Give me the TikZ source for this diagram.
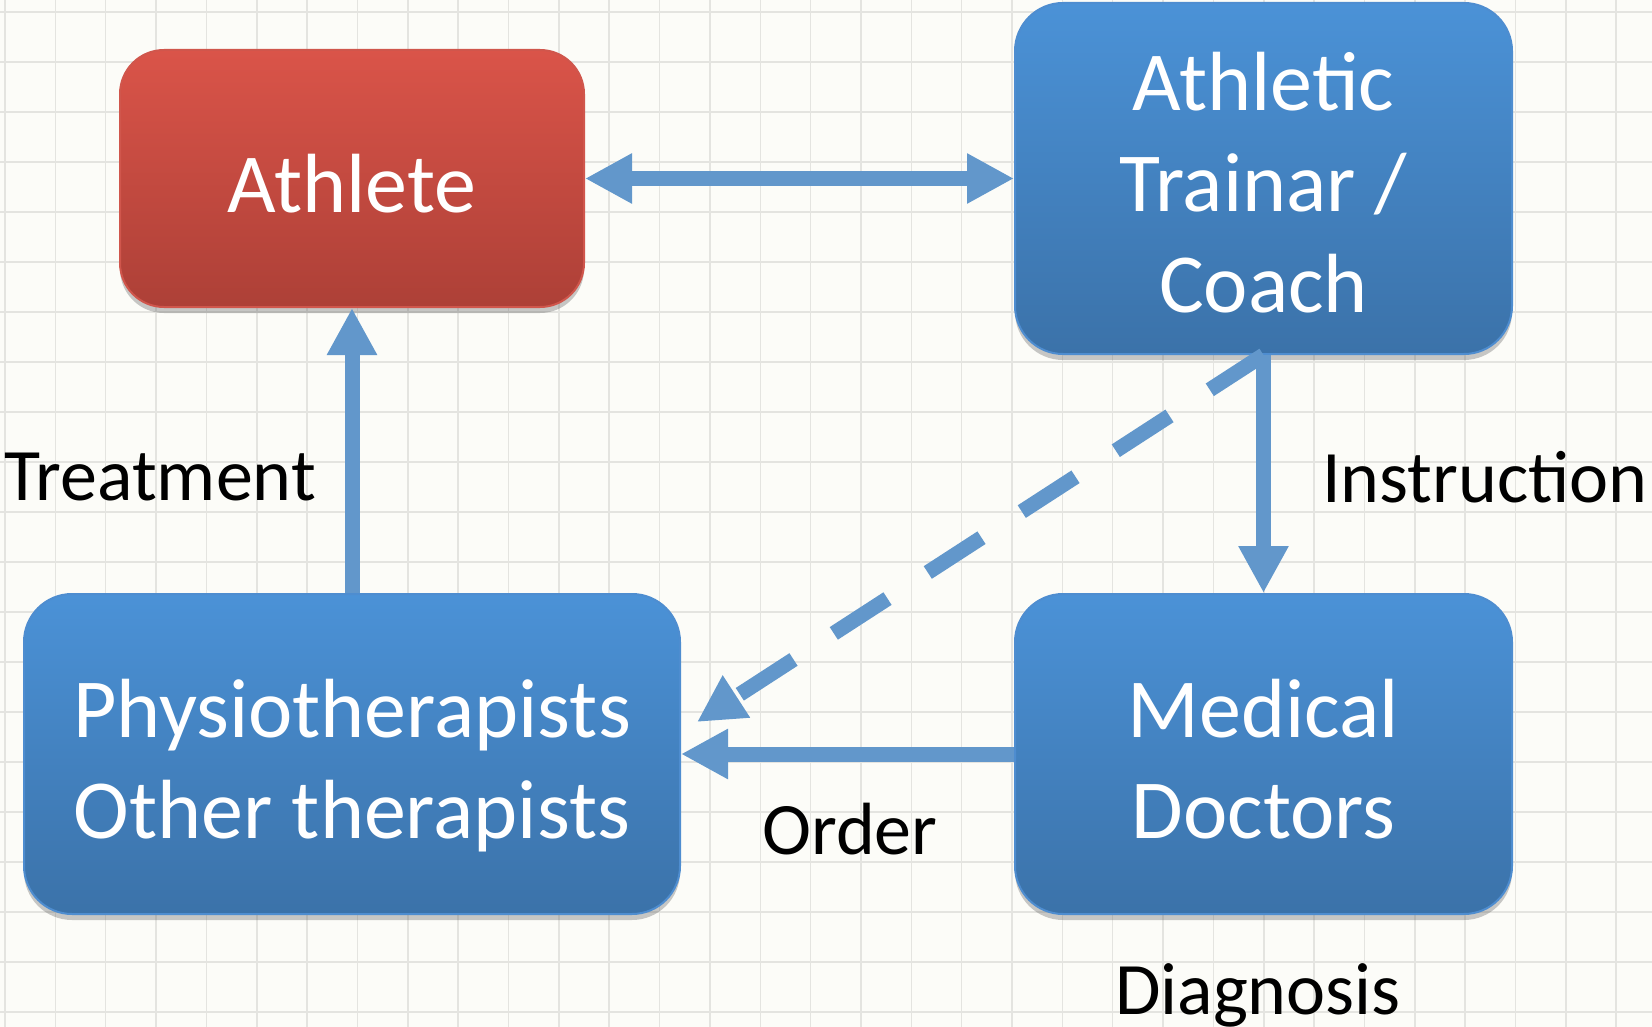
\documentclass[tikz,border=0pt]{standalone}
\usepackage{fontspec}
\setmainfont{Carlito}
\usetikzlibrary{arrows.meta,shadows,calc}
\definecolor{bgc}{HTML}{FCFCF8}
\definecolor{gridc}{HTML}{E4E4E0}
\definecolor{bluetop}{HTML}{4B92D7}
\definecolor{bluebot}{HTML}{3B72A9}
\definecolor{blueedge}{HTML}{4E8DD0}
\definecolor{redtop}{HTML}{DA5449}
\definecolor{redbot}{HTML}{AD4037}
\definecolor{rededge}{HTML}{D0564C}
\definecolor{arrowc}{HTML}{6297CB}
\begin{document}
\begin{tikzpicture}[x=1pt,y=-1pt,
  bigtip/.tip={Triangle[length=47pt,width=47pt]},
  box/.style={rounded corners=48pt, line width=2pt, draw=blueedge,
    top color=bluetop, bottom color=bluebot, text=white,
    font=\fontsize{84}{101}\selectfont, inner sep=0pt,
    drop shadow={shadow xshift=0pt,shadow yshift=-6pt,opacity=0.3,fill=black!70}},
  redbox/.style={box, draw=rededge, top color=redtop, bottom color=redbot},
  lbl/.style={font=\fontsize{74}{88}\selectfont, text=black, inner sep=0pt, anchor=base west},
  conn/.style={draw=arrowc, line width=15pt, -bigtip},
  dblconn/.style={draw=arrowc, line width=15pt, bigtip-bigtip},
]
\useasboundingbox (0,0) rectangle (1652,1027);
\fill[bgc] (0,0) rectangle (1652,1027);
\foreach \i in {0,...,32} \draw[gridc, line width=1.5pt] ({5+50.35*\i},0) -- ({5+50.35*\i},1027);
\foreach \j in {0,...,20} \draw[gridc, line width=1.5pt] (0,{12+50*\j}) -- (1652,{12+50*\j});

\node[redbox, rounded corners=44pt, minimum width=464pt, minimum height=257pt,
  text height=69pt, text depth=0pt] (athlete) at (352,178.5) {Athlete};
\node[box, minimum width=497pt, minimum height=351pt, text height=0pt, text depth=135pt]
  (trainer) at (1263.5,178.5)
  {\begin{tabular}[t]{@{}c@{}}Athletic\\Trainar /\\Coach\end{tabular}};
\node[box, minimum width=656pt, minimum height=320pt, text height=0pt, text depth=34pt]
  (physio) at (352,754)
  {\begin{tabular}[t]{@{}c@{}}Physiotherapists\\Other therapists\end{tabular}};
\node[box, minimum width=497pt, minimum height=320pt, text height=0pt, text depth=34pt]
  (medical) at (1263.5,754)
  {\begin{tabular}[t]{@{}c@{}}Medical\\Doctors\end{tabular}};

\node[lbl] (treat) at (4,500) {Treatment};
\node[lbl] (instr) at (1322,502) {Instruction};
\node[lbl] (order) at (762,854) {Order};
\node[lbl] (diag) at (1115,1014) {Diagnosis};

\draw[dblconn] (athlete) -- (trainer);
\draw[conn] (physio) -- (athlete);
\draw[conn] (trainer) -- (medical);
\draw[conn] (medical) -- (physio);
\coordinate (dtip) at ($(physio.east)+(16,-32)$);
\draw[conn, dash pattern=on 64pt off 48pt] (trainer.south) -- (dtip);
\end{tikzpicture}
\end{document}
